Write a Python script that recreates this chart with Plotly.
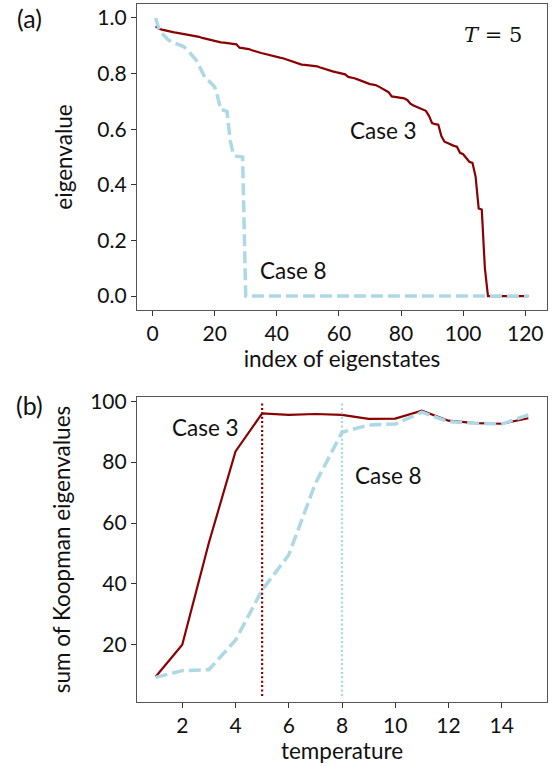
import plotly.graph_objects as go

# ---------------- data: panel (a), T = 5 ----------------
index_a = list(range(1, 122))

case3_eig = [
    0.970, 0.962, 0.958, 0.955, 0.953, 0.950, 0.948, 0.946, 0.944, 0.942,
    0.940, 0.940, 0.938, 0.935, 0.932, 0.928, 0.925, 0.923, 0.921, 0.918,
    0.913, 0.912, 0.911, 0.910, 0.908, 0.906, 0.905, 0.893, 0.892, 0.890,
    0.888, 0.884, 0.880, 0.877, 0.874, 0.871, 0.868, 0.864, 0.862, 0.860,
    0.857, 0.855, 0.851, 0.847, 0.843, 0.839, 0.836, 0.832, 0.831, 0.830,
    0.829, 0.828, 0.826, 0.822, 0.818, 0.815, 0.811, 0.808, 0.805, 0.802,
    0.799, 0.797, 0.788, 0.786, 0.783, 0.779, 0.775, 0.770, 0.765, 0.762,
    0.760, 0.758, 0.752, 0.746, 0.740, 0.733, 0.718, 0.716, 0.714, 0.712,
    0.711, 0.705, 0.692, 0.685, 0.680, 0.676, 0.671, 0.666, 0.648, 0.622,
    0.618, 0.616, 0.575, 0.555, 0.550, 0.544, 0.540, 0.537, 0.515, 0.510,
    0.495, 0.483, 0.479, 0.430, 0.315, 0.311, 0.100, 0.000, 0.000, 0.000,
    0.000, 0.000, 0.000, 0.000, 0.000, 0.000, 0.000, 0.000, 0.000, 0.000,
    0.000,
]

case8_eig = [
    1.000, 0.963, 0.945, 0.933, 0.922, 0.915, 0.911, 0.908, 0.903, 0.897,
    0.887, 0.873, 0.860, 0.849, 0.828, 0.805, 0.783, 0.775, 0.762, 0.752,
    0.715, 0.669, 0.668, 0.663, 0.560, 0.510, 0.503, 0.502, 0.500, 0.000,
    0.000, 0.000, 0.000, 0.000, 0.000, 0.000, 0.000, 0.000, 0.000, 0.000,
    0.000, 0.000, 0.000, 0.000, 0.000, 0.000, 0.000, 0.000, 0.000, 0.000,
    0.000, 0.000, 0.000, 0.000, 0.000, 0.000, 0.000, 0.000, 0.000, 0.000,
    0.000, 0.000, 0.000, 0.000, 0.000, 0.000, 0.000, 0.000, 0.000, 0.000,
    0.000, 0.000, 0.000, 0.000, 0.000, 0.000, 0.000, 0.000, 0.000, 0.000,
    0.000, 0.000, 0.000, 0.000, 0.000, 0.000, 0.000, 0.000, 0.000, 0.000,
    0.000, 0.000, 0.000, 0.000, 0.000, 0.000, 0.000, 0.000, 0.000, 0.000,
    0.000, 0.000, 0.000, 0.000, 0.000, 0.000, 0.000, 0.000, 0.000, 0.000,
    0.000, 0.000, 0.000, 0.000, 0.000, 0.000, 0.000, 0.000, 0.000, 0.000,
    0.000,
]

# ---------------- data: panel (b) ----------------
temperature = [1, 2, 3, 4, 5, 6, 7, 8, 9, 10, 11, 12, 13, 14, 15]
case3_sum = [9.5, 20.0, 53.5, 83.5, 96.0, 95.5, 95.8, 95.5, 94.2, 94.3,
             96.9, 93.6, 92.8, 92.6, 94.4]
case8_sum = [9.3, 11.5, 11.8, 21.5, 38.0, 49.5, 73.0, 89.8, 92.2, 92.5,
             96.4, 93.3, 92.8, 92.5, 95.5]
T_case3 = 5
T_case8 = 8

xticks_a = [0, 20, 40, 60, 80, 100, 120]
yticks_a = [0.0, 0.2, 0.4, 0.6, 0.8, 1.0]
xticks_b = [2, 4, 6, 8, 10, 12, 14]
yticks_b = [20, 40, 60, 80, 100]

RED = "#8b0000"
BLUE = "#add8e6"
FONT = "Lato"
TICK_FS = 21
TITLE_FS = 22.5
ANN_FS = 22.5
INK = "#111111"

fig = go.Figure()

fig.add_trace(go.Scatter(x=index_a, y=case3_eig, mode="lines",
                         line=dict(color=RED, width=2.2),
                         xaxis="x", yaxis="y", showlegend=False))
fig.add_trace(go.Scatter(x=index_a, y=case8_eig, mode="lines",
                         line=dict(color=BLUE, width=3.5, dash="12px,5px"),
                         xaxis="x", yaxis="y", showlegend=False))

fig.add_trace(go.Scatter(x=temperature, y=case3_sum, mode="lines",
                         line=dict(color=RED, width=2.2),
                         xaxis="x2", yaxis="y2", showlegend=False))
fig.add_trace(go.Scatter(x=temperature, y=case8_sum, mode="lines",
                         line=dict(color=BLUE, width=3.5, dash="12px,5px"),
                         xaxis="x2", yaxis="y2", showlegend=False))

axis_common = dict(showgrid=False, zeroline=False, showline=True, mirror=True,
                   automargin=False,
                   linecolor="#555555", linewidth=1.2, ticks="outside",
                   ticklen=5, tickwidth=1.2, tickcolor="#333333",
                   tickfont=dict(family=FONT, size=TICK_FS, color=INK))
title_font = dict(family=FONT, size=TITLE_FS, color=INK)

fig.update_layout(
    width=558, height=766,
    margin=dict(l=137, r=11, t=4, b=64, autoexpand=False),
    paper_bgcolor="white", plot_bgcolor="white",
    xaxis=dict(domain=[0, 1], anchor="y", range=[-5, 127],
               tickvals=xticks_a,
               title=dict(text="index of eigenstates", standoff=0, font=title_font),
               **axis_common),
    yaxis=dict(domain=[0.5616, 1.0], anchor="x", range=[-0.05, 1.05],
               tickvals=yticks_a, tickformat=".1f",
               title=dict(text="eigenvalue", standoff=18, font=title_font),
               **axis_common),
    xaxis2=dict(domain=[0, 1], anchor="y2", range=[0.3, 15.7],
                tickvals=xticks_b,
                title=dict(text="temperature", standoff=0, font=title_font),
                **axis_common),
    yaxis2=dict(domain=[0.0, 0.437], anchor="x2", range=[1.2, 101.4],
                tickvals=yticks_b,
                title=dict(text="sum of Koopman eigenvalues", standoff=13, font=title_font),
                **axis_common),
)

# vertical dotted markers of the transition temperatures
fig.add_shape(type="line", xref="x2", yref="y2 domain", x0=T_case3, x1=T_case3,
              y0=0.02, y1=0.98, line=dict(color=RED, width=2.2, dash="2px,2.4px"))
fig.add_shape(type="line", xref="x2", yref="y2 domain", x0=T_case8, x1=T_case8,
              y0=0.02, y1=0.98, line=dict(color="#a6d8e0", width=2.2, dash="2px,2.4px"))

ann_font = dict(family=FONT, size=ANN_FS, color=INK)
panel_font = dict(family=FONT, size=25, color=INK)
annotations = [
    dict(text="(a)", x=29, y=18, font=panel_font),
    dict(text="(b)", x=29, y=405, font=panel_font),
    dict(text="Case 3", x=383, y=130, font=ann_font),
    dict(text="Case 8", x=293, y=270, font=ann_font),
    dict(text="Case 3", x=205, y=427, font=ann_font),
    dict(text="Case 8", x=388, y=475, font=ann_font),
    dict(text="<i>T</i> = 5", x=493, y=35,
         font=dict(family="DejaVu Serif", size=21, color=INK)),
]
for a in annotations:
    fig.add_annotation(text=a["text"], xref="paper", yref="paper",
                       x=(a["x"] - 137) / (558 - 137 - 11),
                       y=(766 - 64 - a["y"]) / (766 - 4 - 64),
                       xanchor="center", yanchor="middle", showarrow=False,
                       font=a["font"])

fig.write_html("out.html",
               config={"displayModeBar": False},
               post_script="document.body.style.margin='0';"
                           "document.body.style.overflow='hidden';")
